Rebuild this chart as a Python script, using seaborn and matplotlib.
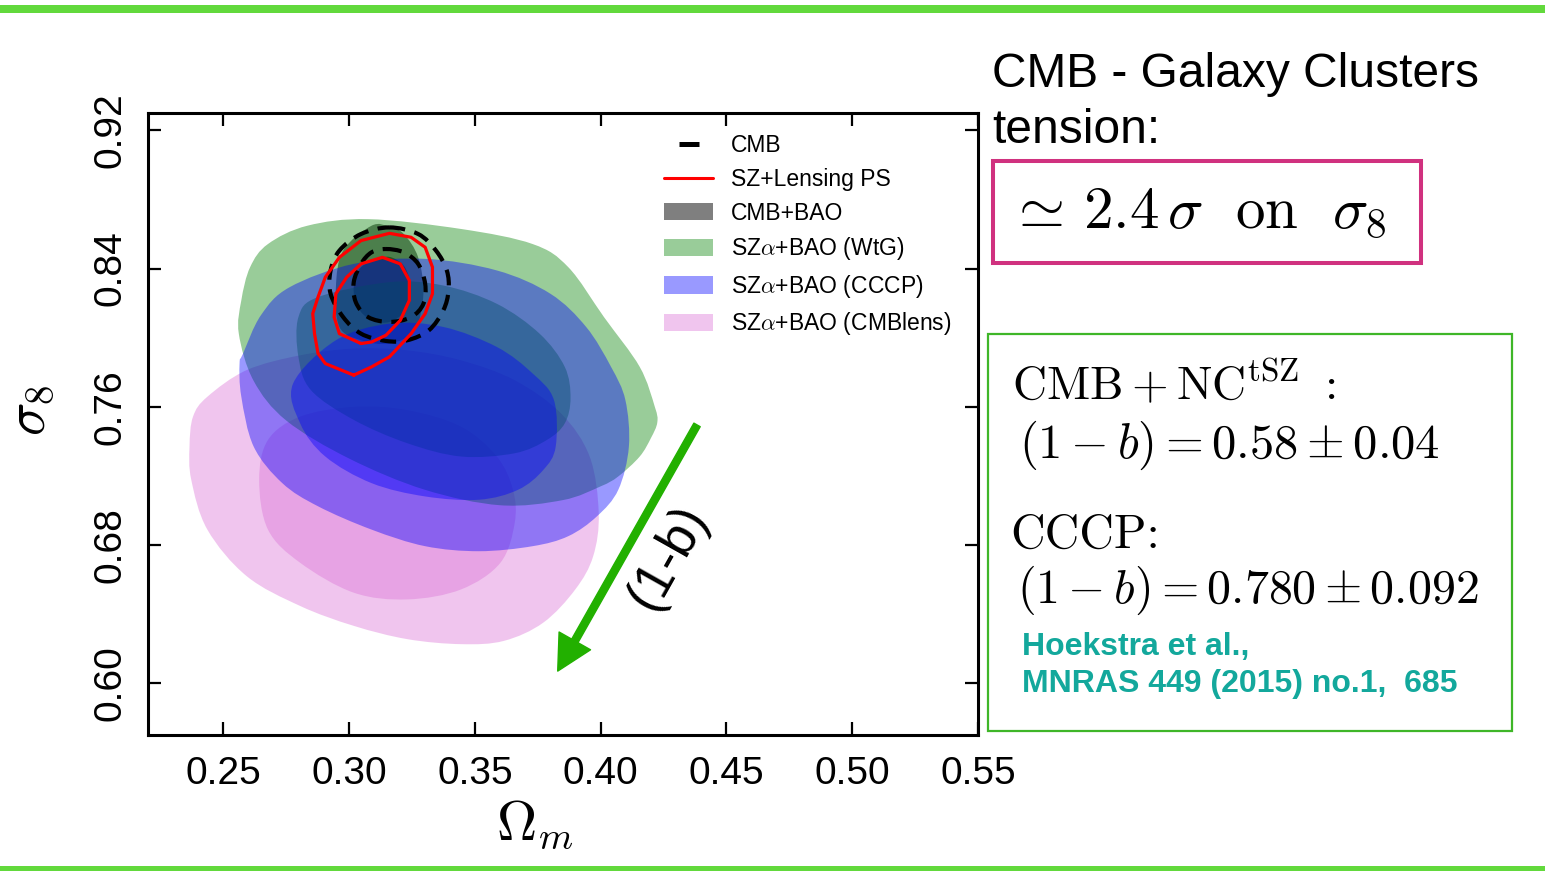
import numpy as np
import pandas as pd
import matplotlib
matplotlib.use("Agg")
import matplotlib.pyplot as plt
import seaborn as sns
from matplotlib.path import Path
from matplotlib.patches import PathPatch, Patch, Rectangle
from matplotlib.lines import Line2D

# ---------------------------------------------------------------------------
# Confidence-region outlines in the (Omega_m, sigma_8) plane
# ---------------------------------------------------------------------------
# CMB+BAO (filled, grey)
om_cmbbao_68 = [0.3132, 0.3047, 0.3018, 0.3033, 0.3089, 0.3160, 0.3225, 0.3246, 0.3225, 0.3182]
s8_cmbbao_68 = [0.8465, 0.8408, 0.8292, 0.8177, 0.8100, 0.8091, 0.8158, 0.8273, 0.8398, 0.8456]
om_cmbbao_95 = [0.3089, 0.2976, 0.2947, 0.2961, 0.3047, 0.3160, 0.3260, 0.3295, 0.3274, 0.3217, 0.3160]
s8_cmbbao_95 = [0.8648, 0.8504, 0.8292, 0.8062, 0.7985, 0.7966, 0.8043, 0.8254, 0.8465, 0.8600, 0.8642]

# SZ alpha + BAO (WtG)
om_wtg_95 = [0.2561, 0.2571, 0.2606, 0.2677, 0.2834, 0.3075, 0.3445, 0.3729, 0.3871, 0.4013,
             0.4155, 0.4215, 0.4225, 0.4200, 0.4155, 0.4070, 0.3999, 0.3850, 0.3600, 0.3300,
             0.3000, 0.2750, 0.2620]
s8_wtg_95 = [0.8023, 0.8216, 0.8408, 0.8542, 0.8648, 0.8686, 0.8629, 0.8542, 0.8408, 0.8119,
             0.7831, 0.7600, 0.7510, 0.7420, 0.7312, 0.7197, 0.7139, 0.7060, 0.7030, 0.7120,
             0.7300, 0.7520, 0.7750]
om_wtg_68 = [0.2798, 0.2876, 0.3160, 0.3374, 0.3587, 0.3757, 0.3857, 0.3880, 0.3857, 0.3786,
             0.3658, 0.3445, 0.3231, 0.3018, 0.2848, 0.2798]
s8_wtg_68 = [0.8119, 0.8235, 0.8321, 0.8302, 0.8196, 0.8023, 0.7831, 0.7650, 0.7504, 0.7408,
             0.7331, 0.7312, 0.7389, 0.7524, 0.7696, 0.7889]

# SZ alpha + BAO (CCCP)
om_cccp_95 = [0.2578, 0.2649, 0.2763, 0.3018, 0.3302, 0.3587, 0.3800, 0.3942, 0.4041, 0.4098,
              0.4112, 0.4070, 0.3985, 0.3871, 0.3729, 0.3516, 0.3302, 0.3089, 0.2876, 0.2734,
              0.2620, 0.2571, 0.2564]
s8_cccp_95 = [0.7908, 0.8130, 0.8292, 0.8427, 0.8456, 0.8389, 0.8254, 0.8062, 0.7831, 0.7639,
              0.7370, 0.7120, 0.6966, 0.6851, 0.6793, 0.6764, 0.6793, 0.6889, 0.7024, 0.7158,
              0.7370, 0.7658, 0.7850]
om_cccp_68 = [0.2777, 0.2947, 0.3160, 0.3374, 0.3587, 0.3729, 0.3814, 0.3821, 0.3772, 0.3672,
              0.3516, 0.3302, 0.3089, 0.2905, 0.2805]
s8_cccp_68 = [0.7735, 0.7985, 0.8081, 0.8062, 0.7946, 0.7793, 0.7639, 0.7370, 0.7235, 0.7120,
              0.7062, 0.7081, 0.7158, 0.7312, 0.7504]

# SZ alpha + BAO (CMBlens)
om_lens_95 = [0.2436, 0.2592, 0.2805, 0.3018, 0.3231, 0.3445, 0.3658, 0.3842, 0.3956, 0.3992,
              0.3970, 0.3899, 0.3772, 0.3615, 0.3445, 0.3231, 0.3018, 0.2805, 0.2592, 0.2436,
              0.2372, 0.2365, 0.2379]
s8_lens_95 = [0.7658, 0.7812, 0.7898, 0.7937, 0.7927, 0.7869, 0.7754, 0.7562, 0.7312, 0.6985,
              0.6735, 0.6543, 0.6351, 0.6245, 0.6226, 0.6255, 0.6332, 0.6447, 0.6620, 0.6889,
              0.7177, 0.7370, 0.7543]
om_lens_68 = [0.2642, 0.2677, 0.2805, 0.3018, 0.3231, 0.3445, 0.3587, 0.3651, 0.3658, 0.3601,
              0.3445, 0.3231, 0.3018, 0.2805, 0.2677]
s8_lens_68 = [0.7177, 0.7408, 0.7543, 0.7600, 0.7581, 0.7485, 0.7312, 0.7120, 0.6928, 0.6697,
              0.6543, 0.6485, 0.6524, 0.6697, 0.6889]

# CMB (dashed contours)
om_cmb_95 = [0.3160, 0.3274, 0.3345, 0.3388, 0.3395, 0.3374, 0.3317, 0.3231, 0.3146, 0.3047,
             0.2976, 0.2926, 0.2926, 0.2961, 0.3047]
s8_cmb_95 = [0.8638, 0.8600, 0.8504, 0.8389, 0.8273, 0.8158, 0.8043, 0.7985, 0.7981, 0.8023,
             0.8119, 0.8254, 0.8389, 0.8504, 0.8600]
om_cmb_68 = [0.3146, 0.3217, 0.3274, 0.3302, 0.3295, 0.3246, 0.3160, 0.3075, 0.3026, 0.3018,
             0.3047, 0.3089]
s8_cmb_68 = [0.8513, 0.8494, 0.8427, 0.8311, 0.8196, 0.8119, 0.8091, 0.8119, 0.8206, 0.8321,
             0.8427, 0.8494]

# SZ + Lensing power spectrum (solid red contours)
om_szl_95 = [0.3018, 0.2905, 0.2876, 0.2862, 0.2855, 0.2876, 0.2905, 0.2961, 0.3047, 0.3160,
             0.3246, 0.3302, 0.3331, 0.3331, 0.3302, 0.3246, 0.3160, 0.3089]
s8_szl_95 = [0.7783, 0.7850, 0.7908, 0.8023, 0.8139, 0.8235, 0.8350, 0.8465, 0.8562, 0.8604,
             0.8581, 0.8523, 0.8408, 0.8254, 0.8139, 0.8023, 0.7889, 0.7831]
om_szl_68 = [0.3047, 0.2961, 0.2940, 0.2947, 0.2990, 0.3047, 0.3132, 0.3203, 0.3239, 0.3239,
             0.3203, 0.3146, 0.3089]
s8_szl_68 = [0.7966, 0.8023, 0.8119, 0.8254, 0.8350, 0.8427, 0.8465, 0.8427, 0.8331, 0.8216,
             0.8100, 0.8014, 0.7975]

# Mass-bias degeneracy arrow (start -> end)
arrow_om = [0.4383, 0.3829]
arrow_s8 = [0.7495, 0.6070]

x_ticks = [0.25, 0.30, 0.35, 0.40, 0.45, 0.50, 0.55]
y_ticks = [0.60, 0.68, 0.76, 0.84, 0.92]

legend_labels = ["CMB", "SZ+Lensing PS", "CMB+BAO", r"SZ$\alpha$+BAO (WtG)",
                 r"SZ$\alpha$+BAO (CCCP)", r"SZ$\alpha$+BAO (CMBlens)"]

# ---------------------------------------------------------------------------
sns.set_style("ticks")
plt.rcParams.update({
    "font.family": ["Liberation Sans", "DejaVu Sans"],
    "mathtext.fontset": "cm",
    "axes.linewidth": 2.2,
    "text.color": "black",
    "axes.labelcolor": "black",
    "xtick.color": "black",
    "ytick.color": "black",
})


def smooth_closed_path(xs, ys):
    """Closed Catmull-Rom style Bezier path through the outline vertices."""
    p = np.column_stack([xs, ys]).astype(float)
    n = len(p)
    verts = [p[0]]
    codes = [Path.MOVETO]
    for i in range(n):
        p0, p1, p2, p3 = p[i - 1], p[i], p[(i + 1) % n], p[(i + 2) % n]
        verts += [p1 + (p2 - p0) / 6.0, p2 - (p3 - p1) / 6.0, p2]
        codes += [Path.CURVE4] * 3
    verts.append(p[0])
    codes.append(Path.CLOSEPOLY)
    return Path(np.array(verts), codes)


fig = plt.figure(figsize=(15.45, 8.71), dpi=100)
ax = fig.add_axes([0.0958, 0.1561, 0.5372, 0.7141])

fills = [
    (om_cmbbao_95, s8_cmbbao_95, "black", 0.5, 1),
    (om_cmbbao_68, s8_cmbbao_68, "black", 0.5, 1),
    (om_lens_95, s8_lens_95, "orchid", 0.4, 2),
    (om_lens_68, s8_lens_68, "orchid", 0.4, 2),
    (om_wtg_95, s8_wtg_95, "green", 0.4, 3),
    (om_wtg_68, s8_wtg_68, "green", 0.4, 3),
    (om_cccp_95, s8_cccp_95, "blue", 0.4, 4),
    (om_cccp_68, s8_cccp_68, "blue", 0.4, 4),
]
for xs, ys, col, a, z in fills:
    ax.add_patch(PathPatch(smooth_closed_path(xs, ys), facecolor=col, alpha=a,
                           edgecolor="none", zorder=z))

# CMB dashed contours
for xs, ys in [(om_cmb_95, s8_cmb_95), (om_cmb_68, s8_cmb_68)]:
    ax.add_patch(PathPatch(smooth_closed_path(xs, ys), facecolor="none", edgecolor="black",
                           lw=3.0, linestyle=(0, (3.8, 2.3)), zorder=5))

# SZ + lensing contours drawn with seaborn
rows = []
for lvl, (xs, ys) in enumerate([(om_szl_95, s8_szl_95), (om_szl_68, s8_szl_68)]):
    for x, y in zip(list(xs) + [xs[0]], list(ys) + [ys[0]]):
        rows.append({"Om": x, "s8": y, "level": lvl})
df_szl = pd.DataFrame(rows)
sns.lineplot(data=df_szl, x="Om", y="s8", units="level", estimator=None, sort=False,
             color="red", lw=2.3, ax=ax, legend=False, zorder=6)

# Arrow and annotation
ax.annotate("", xy=(arrow_om[1], arrow_s8[1]), xytext=(arrow_om[0], arrow_s8[0]),
            arrowprops=dict(arrowstyle="simple,head_length=1.25,head_width=1.3,tail_width=0.26",
                            color="#22b000", shrinkA=0, shrinkB=0, mutation_scale=20),
            zorder=7)
ax.text(0.4267, 0.6728, "(1-b)", rotation=60.6, rotation_mode="anchor",
        ha="center", va="center", fontsize=38, color="black", zorder=7)

ax.set_xlim(0.22, 0.55)
ax.set_ylim(0.57, 0.93)
ax.set_xticks(x_ticks)
ax.set_xticklabels([f"{v:.2f}" for v in x_ticks])
ax.set_yticks(y_ticks)
ax.set_yticklabels([f"{v:.2f}" for v in y_ticks])
ax.tick_params(which="major", direction="in", length=9.6, width=1.6, top=True, right=True,
               labelsize=28, color="black", labelcolor="black")
ax.tick_params(axis="x", pad=15)
ax.tick_params(axis="y", pad=14.3, labelrotation=90)
for lab in ax.get_yticklabels():
    lab.set_va("center")
for s in ax.spines.values():
    s.set_visible(True)
    s.set_color("black")
    s.set_linewidth(2.2)

ax.set_xlabel(r"$\Omega_m$", fontsize=40)
ax.xaxis.set_label_coords(0.466, -0.145)
ax.xaxis.label.set_va("center")
ax.set_ylabel(r"$\sigma_8$", fontsize=40)
ax.yaxis.set_label_coords(-0.142, 0.5225)
ax.yaxis.label.set_va("center")

handles = [
    Line2D([], [], color="black", ls="none", marker="_", markersize=14.4, markeredgewidth=3.6),
    Line2D([], [], color="red", lw=2.2),
    Patch(facecolor="black", alpha=0.5, edgecolor="none"),
    Patch(facecolor="green", alpha=0.4, edgecolor="none"),
    Patch(facecolor="blue", alpha=0.4, edgecolor="none"),
    Patch(facecolor="orchid", alpha=0.4, edgecolor="none"),
]
ax.legend(handles, legend_labels, loc="upper left", bbox_to_anchor=(0.6217, 0.966),
          frameon=False, fontsize=16.5, handlelength=2.14, handleheight=0.79,
          handletextpad=0.79, labelspacing=0.465, borderpad=0, borderaxespad=0)

# ---------------------------------------------------------------------------
# Side panel text
W, H = 1545.0, 871.0


def fx(px):
    return px / W


def fy(py):
    return 1.0 - py / H


fig.text(fx(992), fy(87), "CMB - Galaxy Clusters", fontsize=34.5, va="baseline", ha="left")
fig.text(fx(992), fy(143), "tension:", fontsize=34.5, va="baseline", ha="left")

fig.add_artist(Rectangle((fx(993), fy(263)), 428 / W, 102 / H, transform=fig.transFigure,
                         facecolor="none", edgecolor="#d0317f", lw=2.9))
fig.text(fx(1008), fy(228), r"$\simeq\, 2.4\,\sigma\ \ \mathrm{on}\ \ \sigma_8$", fontsize=42.5,
         va="baseline", ha="left")

fig.add_artist(Rectangle((fx(988), fy(731)), 524 / W, 397 / H, transform=fig.transFigure,
                         facecolor="none", edgecolor="#3fb628", lw=1.6))
fig.text(fx(1012), fy(400), r"$\mathrm{CMB} + \mathrm{NC}^{\mathrm{tSZ}}\ \mathrm{:}$",
         fontsize=34, va="baseline", ha="left")
fig.text(fx(1019), fy(458), r"$(1-b) = 0.58 \pm 0.04$", fontsize=35, va="baseline", ha="left")
fig.text(fx(1010), fy(548), "CCCP:", family="cmr10", fontsize=34.5, va="baseline", ha="left")
fig.text(fx(1017), fy(603), r"$(1-b) = 0.780 \pm 0.092$", fontsize=34.5, va="baseline",
         ha="left")
fig.text(fx(1022), fy(655), "Hoekstra et al.,", fontsize=23, fontweight="bold",
         color="#13a89c", va="baseline", ha="left")
fig.text(fx(1022), fy(692), "MNRAS 449 (2015) no.1,  685", fontsize=23, fontweight="bold",
         color="#13a89c", va="baseline", ha="left")

# Slide bands
fig.add_artist(Rectangle((0, fy(13)), 1, 8 / H, transform=fig.transFigure,
                         facecolor="#62d93c", edgecolor="none"))
fig.add_artist(Rectangle((0, 0), 1, 5 / H, transform=fig.transFigure,
                         facecolor="#62d93c", edgecolor="none"))

fig.savefig("out.png", dpi=100)
